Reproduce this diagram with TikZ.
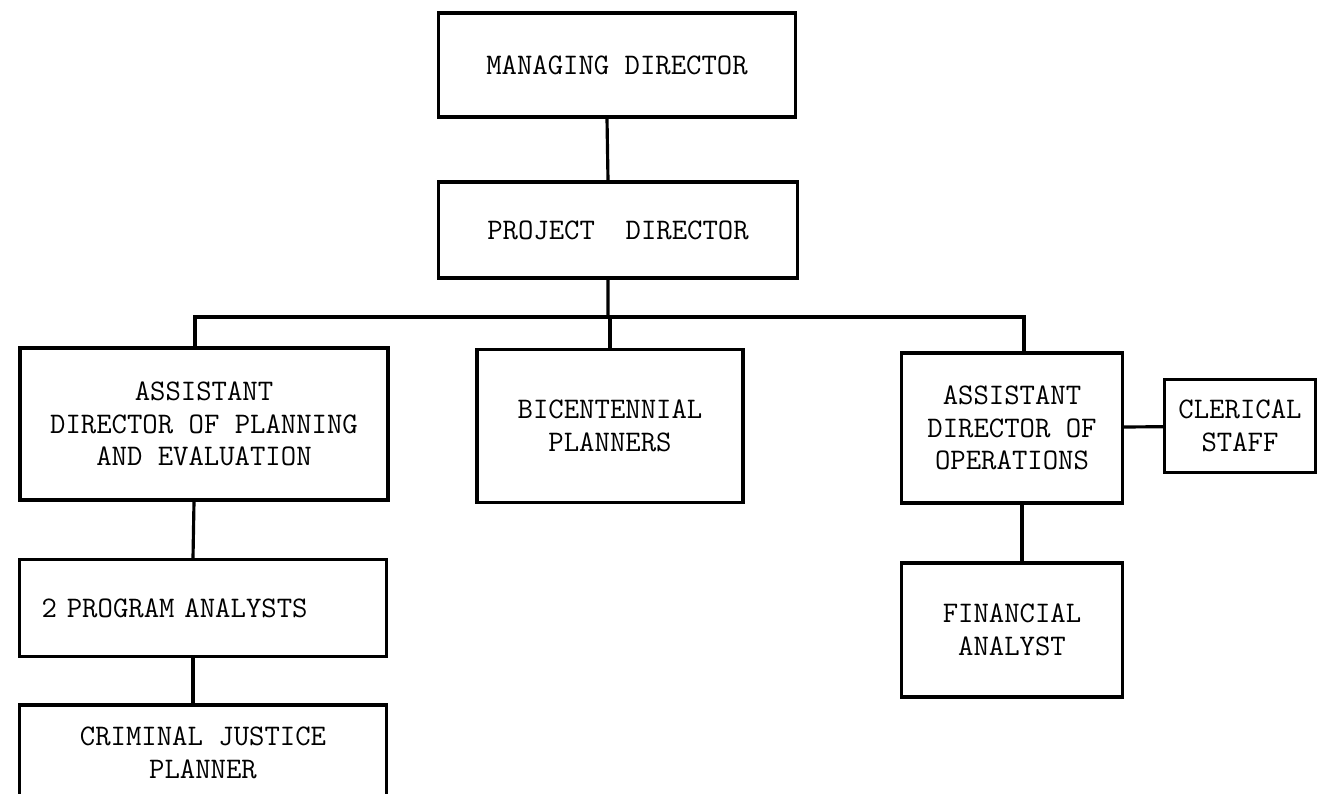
\documentclass[tikz,border=0pt]{standalone}
\usepackage{fontspec}
\usepackage{tikz}

\begin{document}
\begin{tikzpicture}[x=0.02cm, y=-0.02cm,
  box/.style={draw, line width=1.8pt, inner sep=0pt, align=center,
    font=\ttfamily\fontsize{17}{18.5}\selectfont},
  link/.style={line width=1.8pt}]

\useasboundingbox (0,0) rectangle (1319,794);
\clip (0,0) rectangle (1319,794);
\fill[white] (0,0) rectangle (1319,794);

% --- Directors ---
\node[box, minimum width=7.14cm, minimum height=2.08cm] (md) at (617,65)
  {MANAGING DIRECTOR};
\node[box, minimum width=7.18cm, minimum height=1.92cm] (pd) at (618,230)
  {PROJECT~~DIRECTOR};

% --- Second row ---
\node[box, minimum width=7.36cm, minimum height=3.04cm] (apl) at (204,424)
  {ASSISTANT\\DIRECTOR OF PLANNING\\AND EVALUATION};
\node[box, minimum width=5.32cm, minimum height=3.06cm] (bic) at (610,426)
  {BICENTENNIAL\\PLANNERS};
\node[box, minimum width=4.42cm, minimum height=3.0cm] (ado) at (1012,428)
  {ASSISTANT\\DIRECTOR OF\\OPERATIONS};
\node[box, minimum width=3.02cm, minimum height=1.86cm] (cs) at (1240,426)
  {CLERICAL\\STAFF};

% --- Staff under the assistant directors ---
\node[box, text width=6.46cm, inner xsep=0.44cm, align=left,
  minimum height=1.94cm] (pa) at (203,608)
  {2 PROGRAM ANALYSTS};
\node[box, minimum width=7.34cm, minimum height=1.92cm] (cjp) at (203,753)
  {CRIMINAL JUSTICE\\PLANNER};
\node[box, minimum width=4.42cm, minimum height=2.68cm] (fa) at (1012,630)
  {FINANCIAL\\ANALYST};

% --- Connectors ---
\coordinate (bus) at (608,317);
\draw[link] ([xshift=-0.2cm]md.south) -- ([xshift=-0.2cm]pd.north);
\draw[link] ([xshift=-0.2cm]pd.south) -- (bus);
\draw[link] ([xshift=-0.18cm]apl.north) |- (bus) -| ([xshift=0.24cm]ado.north);
\draw[link] (bic.north) -- (bic.north |- bus);
\draw[link] (ado) -- (cs);
\draw[link] ([xshift=-0.2cm]apl.south) -- ([xshift=-0.2cm]pa.north);
\draw[link] ([xshift=-0.2cm]pa.south) -- ([xshift=-0.2cm]cjp.north);
\draw[link] ([xshift=0.2cm]ado.south) -- ([xshift=0.2cm]fa.north);

\end{tikzpicture}
\end{document}
